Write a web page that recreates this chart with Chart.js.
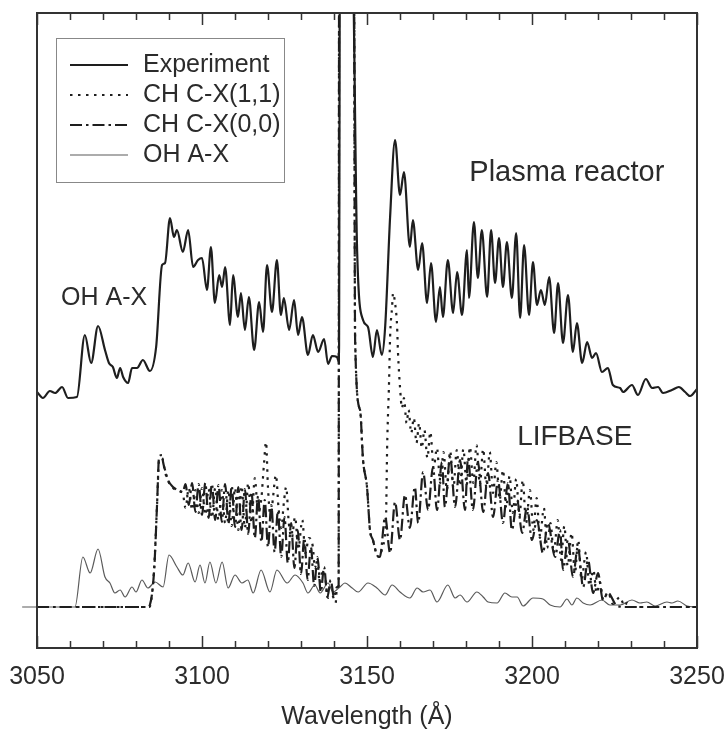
<!DOCTYPE html>
<html>
<head>
<meta charset="utf-8">
<title>CH C-X spectrum</title>
<script src="https://cdn.jsdelivr.net/npm/chart.js@4.4.1/dist/chart.umd.min.js"></script>
<style>
  html, body { margin: 0; padding: 0; background: #fff; }
</style>
</head>
<body>
<canvas id="myChart" width="728" height="733"></canvas>
<script>
'use strict';

// x axis range and tick labels
let wlMin = 3050;
let wlMax = 3250;
let tickLabels = [3050, 3100, 3150, 3200, 3250];

// Experiment (plasma reactor), arbitrary units
let expWl = [3050.0, 3051.8, 3053.9, 3055.5, 3057.6, 3059.4, 3062.1, 3064.5, 3066.4, 3068.5,
  3070.6, 3071.8, 3073.0, 3074.2, 3075.2, 3076.1, 3077.6, 3078.8, 3080.3, 3082.1,
  3084.2, 3086.1, 3087.9, 3088.8, 3090.3, 3091.5, 3092.4, 3094.2, 3095.8, 3097.3,
  3098.8, 3100.0, 3101.5, 3102.7, 3103.9, 3105.2, 3106.1, 3107.0, 3108.5, 3109.4,
  3110.9, 3111.8, 3113.0, 3114.2, 3115.8, 3117.3, 3118.5, 3119.7, 3121.2, 3122.7,
  3123.9, 3124.8, 3126.4, 3127.9, 3129.1, 3130.3, 3132.1, 3133.6, 3135.2, 3137.0,
  3138.2, 3139.4, 3140.9, 3141.5, 3141.8, 3145.5, 3147.0, 3148.8, 3150.3, 3151.8,
  3153.0, 3154.5, 3155.5, 3157.0, 3158.5, 3160.0, 3161.2, 3163.0, 3163.9, 3165.5,
  3166.7, 3168.2, 3169.4, 3170.9, 3172.1, 3173.0, 3174.5, 3176.1, 3177.3, 3178.8,
  3180.3, 3180.9, 3182.4, 3183.6, 3184.8, 3186.4, 3187.6, 3188.8, 3190.0, 3191.2,
  3192.4, 3193.9, 3195.2, 3196.4, 3197.6, 3199.1, 3200.3, 3201.5, 3202.7, 3203.9,
  3205.2, 3206.7, 3207.9, 3209.4, 3210.9, 3212.4, 3213.6, 3215.2, 3216.7, 3218.2,
  3219.4, 3221.2, 3223.0, 3224.5, 3226.7, 3227.6, 3230.3, 3232.1, 3234.5, 3236.4,
  3238.2, 3239.7, 3242.4, 3244.5, 3246.4, 3247.9, 3250.0];
let expI = [256, 250, 257, 255, 261, 250, 251, 313, 285, 322,
  298, 285, 281, 270, 280, 271, 265, 280, 280, 288,
  277, 301, 383, 385, 430, 411, 418, 396, 418, 381,
  388, 390, 358, 401, 345, 373, 361, 381, 323, 373,
  331, 355, 318, 351, 298, 346, 316, 383, 336, 388,
  333, 350, 318, 348, 313, 331, 293, 313, 296, 309,
  284, 292, 291, 286, 700, 700, 398, 328, 321, 291,
  318, 293, 321, 431, 508, 453, 476, 401, 428, 378,
  405, 345, 385, 326, 361, 331, 388, 335, 376, 333,
  398, 350, 426, 370, 418, 351, 418, 365, 410, 361,
  406, 350, 415, 330, 403, 333, 386, 343, 358, 343,
  371, 315, 365, 305, 353, 296, 325, 285, 306, 290,
  295, 276, 280, 263, 260, 256, 263, 253, 269, 260,
  261, 255, 258, 261, 256, 252, 259];

// LIFBASE CH C-X(1,1)
let c11Wl = [3050.0, 3084.0, 3084.5, 3085.5, 3086.4, 3087.0, 3087.9, 3088.8, 3089.7, 3091.2,
  3092.7, 3094.2, 3095.0, 3096.0, 3097.0, 3098.0, 3099.0, 3100.0, 3101.0, 3102.0,
  3103.0, 3104.0, 3105.0, 3106.0, 3107.0, 3108.0, 3109.0, 3110.0, 3111.0, 3112.0,
  3113.0, 3114.0, 3115.0, 3116.0, 3117.0, 3118.0, 3118.8, 3119.4, 3120.0, 3120.8,
  3121.5, 3122.4, 3123.2, 3124.0, 3124.8, 3125.5, 3126.3, 3127.2, 3128.2, 3129.2,
  3130.4, 3131.3, 3132.4, 3133.6, 3134.2, 3134.9, 3135.7, 3136.6, 3137.3, 3138.2,
  3139.4, 3140.5, 3140.9, 3141.4, 3141.6, 3145.9, 3146.4, 3147.9, 3148.8, 3150.0,
  3150.9, 3151.8, 3153.0, 3153.9, 3154.6, 3155.5, 3155.8, 3156.1, 3156.7,
  3157.0, 3157.6, 3157.9, 3158.5, 3159.1, 3159.4, 3160.0, 3160.6, 3161.2, 3162.0,
  3162.6, 3163.4, 3164.2, 3165.0, 3165.8, 3166.6, 3167.4, 3168.3, 3169.2, 3170.2,
  3171.2, 3172.2, 3173.2, 3174.2, 3175.2, 3176.2, 3177.2, 3178.2, 3179.2, 3180.2,
  3181.2, 3182.2, 3183.2, 3184.2, 3185.2, 3186.2, 3187.2, 3188.2, 3189.2, 3190.2,
  3191.2, 3192.2, 3193.2, 3194.2, 3195.2, 3196.2, 3197.2, 3198.2, 3199.4, 3200.4,
  3201.4, 3202.4, 3203.6, 3204.6, 3205.6, 3206.6, 3207.8, 3208.8, 3209.8, 3210.8,
  3212.0, 3213.0, 3214.0, 3215.0, 3216.4, 3217.4, 3218.6, 3219.6, 3220.6, 3221.6,
  3223.0, 3224.5, 3226.7, 3228.0, 3228.8, 3230.0, 3250.0];
let c11I = [41, 41, 45, 80, 145, 188, 190, 176, 167, 160,
  157, 154, 140, 160, 138, 158, 135, 160, 133, 159,
  130, 160, 128, 158, 125, 158, 122, 160, 118, 162,
  120, 165, 125, 170, 135, 150, 185, 206, 160, 130,
  150, 173, 140, 120, 145, 161, 125, 110, 131, 100,
  128, 95, 110, 101, 80, 88, 65, 78, 71, 50,
  53, 45, 61, 62, 900, 900, 308, 238, 188, 161,
  118, 108, 93, 91, 100, 115, 135, 200, 268,
  311, 341, 355, 345, 323, 295, 261, 240, 250, 225,
  238, 215, 230, 205, 225, 200, 218, 190, 216, 180,
  200, 165, 196, 158, 197, 160, 198, 162, 199, 163,
  201, 165, 203, 163, 199, 160, 196, 155, 186, 148,
  178, 140, 172, 135, 169, 132, 168, 125, 158, 118,
  150, 110, 140, 100, 125, 95, 128, 88, 122, 82,
  115, 75, 108, 68, 96, 62, 78, 55, 66, 48,
  56, 44, 51, 42, 45, 41, 41];

// LIFBASE CH C-X(0,0)
let c00Wl = [3050.0, 3083.6, 3084.2, 3085.5, 3086.4, 3087.0, 3087.9, 3088.2, 3088.8, 3089.7,
  3091.2, 3092.7, 3094.2, 3095.0, 3096.0, 3097.0, 3098.0, 3099.0, 3100.0, 3101.0,
  3102.0, 3103.0, 3104.0, 3105.0, 3106.0, 3107.0, 3108.0, 3109.0, 3110.0, 3111.0,
  3112.0, 3113.0, 3114.0, 3115.0, 3116.0, 3117.0, 3118.0, 3119.0, 3120.0, 3121.0,
  3122.0, 3123.0, 3124.0, 3125.0, 3126.0, 3127.0, 3128.0, 3129.0, 3130.0, 3131.0,
  3132.0, 3133.0, 3134.0, 3135.0, 3136.0, 3137.0, 3138.0, 3139.0, 3140.0, 3140.9,
  3141.4, 3141.6, 3145.9, 3146.4, 3147.9, 3148.8, 3150.0, 3150.9, 3151.8, 3153.0,
  3153.9, 3155.5, 3157.0, 3158.5, 3160.0, 3161.5, 3163.0, 3164.5, 3165.5, 3167.0,
  3168.5, 3170.0, 3171.2, 3172.7, 3173.6, 3175.2, 3176.7, 3178.2, 3179.7, 3180.6,
  3182.1, 3183.6, 3185.2, 3186.7, 3188.2, 3189.7, 3191.2, 3192.7, 3193.9, 3195.5,
  3197.0, 3198.5, 3200.0, 3201.5, 3203.3, 3204.8, 3207.0, 3208.5, 3209.4, 3210.9,
  3212.4, 3213.9, 3215.5, 3217.0, 3218.5, 3220.0, 3221.5, 3223.0, 3225.8, 3228.8,
  3250.0];
let c00I = [41, 41, 43, 78, 145, 191, 193, 186, 178, 168,
  161, 158, 156, 164, 143, 165, 136, 164, 133, 165,
  130, 164, 128, 163, 126, 164, 124, 162, 121, 161,
  118, 159, 114, 156, 110, 152, 106, 148, 101, 143,
  96, 137, 91, 131, 85, 125, 80, 118, 74, 110,
  68, 101, 62, 91, 56, 81, 51, 68, 51, 61,
  62, 900, 900, 308, 238, 188, 161, 118, 108, 93,
  91, 131, 95, 146, 108, 153, 120, 161, 125, 176,
  138, 181, 138, 186, 141, 191, 141, 188, 138, 190,
  138, 186, 136, 175, 131, 168, 125, 165, 118, 148,
  115, 141, 108, 128, 95, 125, 91, 118, 78, 108,
  71, 101, 61, 88, 55, 75, 48, 55, 42, 41,
  41];

// LIFBASE OH A-X
let ohWl = [3045.5, 3061.5, 3063.9, 3066.1, 3068.5, 3070.6, 3072.1, 3073.6, 3075.2, 3076.7,
  3078.8, 3080.0, 3081.8, 3083.6, 3085.8, 3088.2, 3090.0, 3092.4, 3094.2, 3095.8,
  3097.9, 3099.4, 3100.9, 3102.4, 3104.2, 3106.1, 3107.9, 3110.0, 3112.1, 3113.9,
  3115.5, 3117.9, 3120.6, 3122.7, 3125.8, 3128.2, 3130.6, 3132.1, 3134.2, 3135.8,
  3138.2, 3139.7, 3141.8, 3143.3, 3145.5, 3147.3, 3150.3, 3153.0, 3155.5, 3157.6,
  3160.0, 3163.0, 3165.2, 3167.0, 3169.1, 3171.2, 3174.5, 3176.7, 3178.2, 3180.3,
  3183.3, 3185.2, 3186.7, 3189.4, 3191.8, 3193.9, 3195.5, 3197.3, 3200.3, 3203.3,
  3205.5, 3208.5, 3210.6, 3212.1, 3213.6, 3215.5, 3217.6, 3221.2, 3223.6, 3226.7,
  3230.3, 3232.7, 3234.8, 3237.3, 3240.9, 3242.4, 3244.2, 3247.0, 3249.7];
let ohI = [41, 41, 91, 75, 99, 71, 65, 55, 58, 51,
  61, 56, 68, 60, 66, 61, 93, 81, 73, 85,
  66, 83, 65, 86, 65, 86, 60, 73, 65, 68,
  55, 78, 56, 78, 65, 73, 65, 55, 63, 55,
  65, 56, 61, 65, 60, 56, 65, 60, 53, 63,
  56, 50, 60, 56, 58, 46, 63, 50, 53, 46,
  56, 51, 46, 45, 55, 51, 51, 42, 50, 49,
  43, 41, 49, 43, 50, 45, 43, 48, 43, 43,
  48, 45, 46, 42, 46, 45, 47, 42, 41];

let seriesNames = ['Experiment', 'CH C-X(1,1)', 'CH C-X(0,0)', 'OH A-X'];

// text written inside the plot
let notes = [
  { text: 'OH A-X', wl: 3057.3, val: 350, size: 25 },
  { text: 'Plasma reactor', wl: 3181.0, val: 475, size: 29 },
  { text: 'LIFBASE', wl: 3195.5, val: 211, size: 28 }
];

const FONT = '"Liberation Sans", Arial, Helvetica, sans-serif';
const INK = '#2b2b2b';

function toPoints(wl, val) {
  return wl.map(function (w, i) { return { x: w, y: val[i] }; });
}

// frame, inward ticks, legend box and text notes
const decorPlugin = {
  id: 'decor',
  afterDraw(chart) {
    let ctx = chart.ctx;
    let area = chart.chartArea;
    let xs = chart.scales.x;
    let ys = chart.scales.y;
    ctx.save();

    ctx.strokeStyle = '#333';
    ctx.lineWidth = 2;
    ctx.strokeRect(area.left, area.top, area.right - area.left, area.bottom - area.top);

    ctx.lineWidth = 1.5;
    for (let v = wlMin; v <= wlMax; v += 10) {
      let px = Math.round(xs.getPixelForValue(v)) + 0.5;
      let len = (v % 50 === 0) ? 12 : 7;
      ctx.beginPath();
      ctx.moveTo(px, area.bottom);
      ctx.lineTo(px, area.bottom - len);
      ctx.moveTo(px, area.top);
      ctx.lineTo(px, area.top + len);
      ctx.stroke();
    }

    // legend
    ctx.strokeStyle = '#888';
    ctx.lineWidth = 1;
    ctx.strokeRect(56.5, 38.5, 228, 144);
    chart.data.datasets.forEach(function (ds, i) {
      let y = 65 + i * 30;
      ctx.beginPath();
      ctx.setLineDash(ds.borderDash || []);
      ctx.lineWidth = ds.borderWidth;
      ctx.strokeStyle = ds.borderColor;
      ctx.moveTo(70, y);
      ctx.lineTo(128, y);
      ctx.stroke();
      ctx.setLineDash([]);
      ctx.fillStyle = INK;
      ctx.font = '25px ' + FONT;
      ctx.textBaseline = 'middle';
      ctx.textAlign = 'left';
      ctx.fillText(ds.label, 143, y);
    });

    ctx.fillStyle = INK;
    ctx.textBaseline = 'middle';
    notes.forEach(function (n) {
      ctx.font = n.size + 'px ' + FONT;
      ctx.fillText(n.text, xs.getPixelForValue(n.wl), ys.getPixelForValue(n.val));
    });

    ctx.restore();
  }
};

let ctx = document.getElementById('myChart').getContext('2d');

let myChart = new Chart(ctx, {
  type: 'line',
  data: {
    datasets: [{
      label: seriesNames[0],
      data: toPoints(expWl, expI),
      borderColor: '#1e1e1e',
      borderWidth: 2.2,
      borderDash: [],
      cubicInterpolationMode: 'monotone'
    }, {
      label: seriesNames[1],
      data: toPoints(c11Wl, c11I),
      borderColor: '#1e1e1e',
      borderWidth: 2.2,
      borderDash: [2.5, 5.5],
      cubicInterpolationMode: 'monotone'
    }, {
      label: seriesNames[2],
      data: toPoints(c00Wl, c00I),
      borderColor: '#1e1e1e',
      borderWidth: 2.2,
      borderDash: [12, 4, 2.5, 4],
      cubicInterpolationMode: 'monotone'
    }, {
      label: seriesNames[3],
      data: toPoints(ohWl, ohI),
      borderColor: '#5a5a5a',
      borderWidth: 1.2,
      borderDash: [],
      cubicInterpolationMode: 'monotone',
      clip: false
    }]
  },
  options: {
    responsive: false,
    animation: false,
    elements: { point: { radius: 0 } },
    layout: { padding: { left: 37, right: 31, top: 13, bottom: 0 } },
    plugins: {
      legend: { display: false },
      tooltip: { enabled: false }
    },
    scales: {
      x: {
        type: 'linear',
        min: wlMin,
        max: wlMax,
        afterBuildTicks: function (scale) {
          scale.ticks = tickLabels.map(function (v) { return { value: v }; });
        },
        afterFit: function (scale) {
          scale.height = 85;
          scale.paddingLeft = 0;
          scale.paddingRight = 0;
        },
        grid: { display: false, drawTicks: false },
        border: { display: false },
        ticks: {
          padding: 14,
          color: INK,
          font: { size: 25, family: FONT },
          maxRotation: 0,
          callback: function (v) { return String(v); }
        },
        title: {
          display: true,
          text: 'Wavelength (Å)',
          color: INK,
          font: { size: 25, family: FONT },
          padding: { top: 0, bottom: 1 }
        }
      },
      y: {
        display: false,
        min: 0,
        max: 635
      }
    }
  },
  plugins: [decorPlugin]
});
</script>
</body>
</html>
